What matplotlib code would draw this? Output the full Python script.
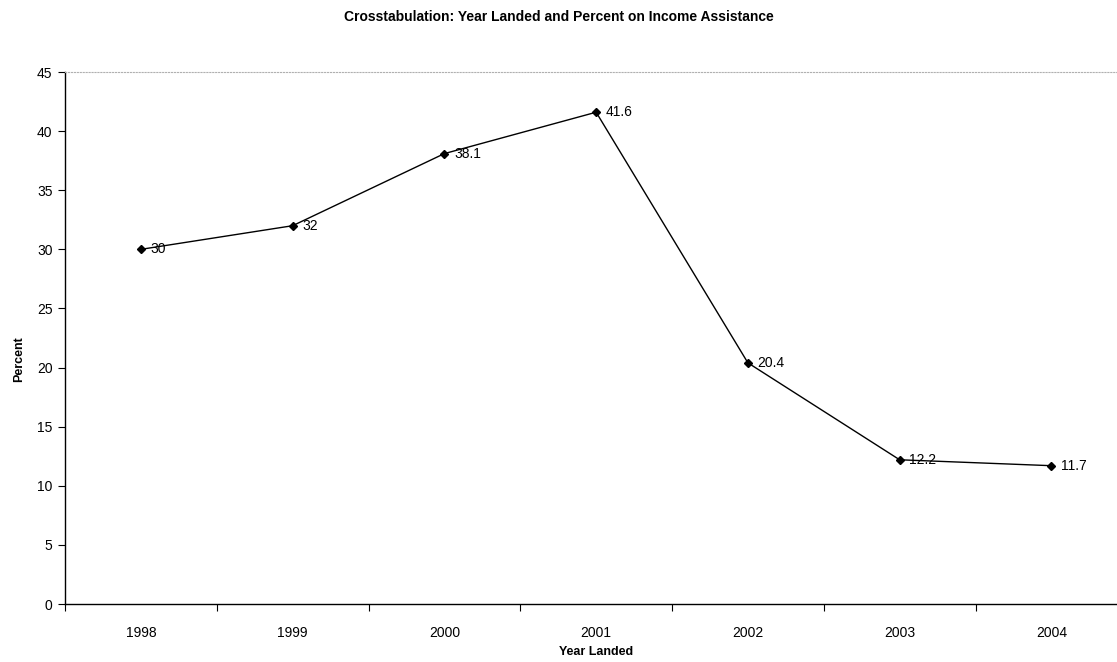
import matplotlib
matplotlib.use("Agg")
import matplotlib.pyplot as plt
from matplotlib.ticker import FixedLocator

plt.rcParams["font.family"] = ["Liberation Sans", "DejaVu Sans"]

years = ["1998", "1999", "2000", "2001", "2002", "2003", "2004"]
percent = [30, 32, 38.1, 41.6, 20.4, 12.2, 11.7]
value_labels = ["30", "32", "38.1", "41.6", "20.4", "12.2", "11.7"]

fig = plt.figure(figsize=(11.17, 6.62), dpi=100)
ax = fig.add_axes([0.0582, 0.0876, 0.951, 0.8036])

x = list(range(len(years)))
ax.plot(x, percent, color="black", linewidth=1.0, marker="D", markersize=4.5,
        markerfacecolor="black", markeredgecolor="black")

# value labels sit just right of each point
for xi, yi, lab in zip(x, percent, value_labels):
    ax.annotate(lab, (xi, yi), xytext=(7, 0), textcoords="offset points",
                va="center", ha="left", fontsize=10)

ax.set_xlim(-0.5, len(years) - 0.5)
ax.set_ylim(0, 45)
ax.set_yticks(range(0, 46, 5))
ax.set_xticks(x)
ax.set_xticklabels(years, fontsize=10)
ax.tick_params(axis="x", which="major", length=0, pad=16)
# tick marks between categories
ax.xaxis.set_minor_locator(FixedLocator([i - 0.5 for i in range(len(years) + 1)]))
ax.tick_params(axis="x", which="minor", length=5, direction="out", width=0.8)
ax.tick_params(axis="y", length=5, direction="out", width=0.8, labelsize=10, pad=4)

ax.spines["right"].set_visible(False)
ax.spines["top"].set_color("#b0b0b0")
ax.spines["top"].set_linestyle(":")
ax.spines["top"].set_linewidth(0.8)
ax.spines["left"].set_linewidth(1.0)
ax.spines["bottom"].set_linewidth(1.0)

ax.set_xlabel("Year Landed", fontsize=9, fontweight="bold", labelpad=4)
ax.set_ylabel("Percent", fontsize=9, fontweight="bold")
ax.yaxis.set_label_coords(-0.038, 0.46)
fig.suptitle("Crosstabulation: Year Landed and Percent on Income Assistance",
             fontsize=10, fontweight="bold", x=0.5, y=0.985)

fig.savefig("out.png", dpi=100)
